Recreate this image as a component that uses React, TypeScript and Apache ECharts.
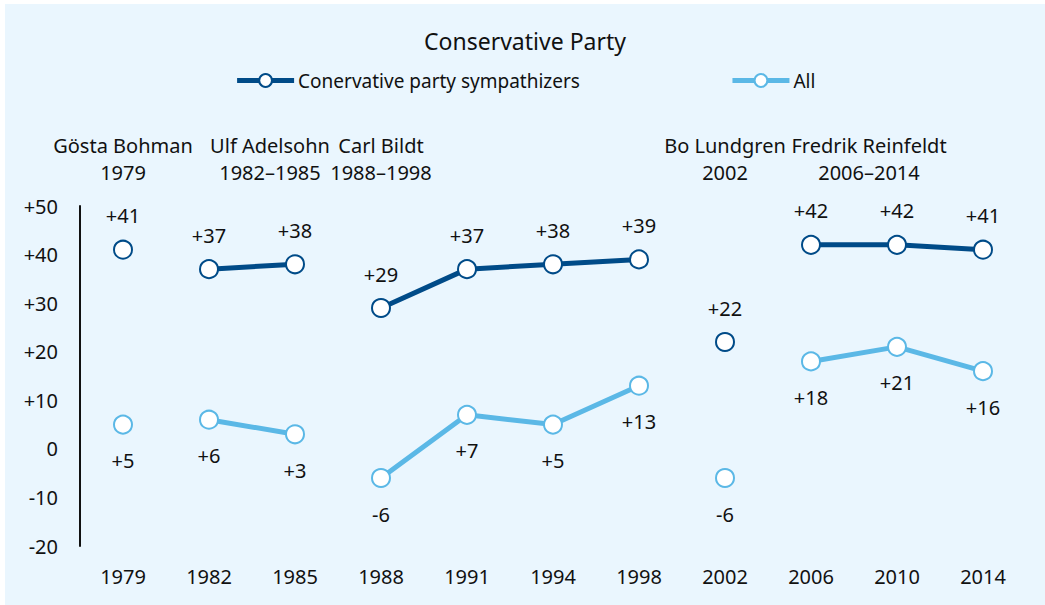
import React, { useEffect, useRef } from "react";
import * as echarts from "echarts";

const years = ["1979", "1982", "1985", "1988", "1991", "1994", "1998", "2002", "2006", "2010", "2014"];
const sympathizers = [41, 37, 38, 29, 37, 38, 39, 22, 42, 42, 41];
const allVoters = [5, 6, 3, -6, 7, 5, 13, -6, 18, 21, 16];
// leadership periods: [firstIndex, lastIndex]
const segments: [number, number][] = [[0, 0], [1, 2], [3, 6], [7, 7], [8, 10]];
const leaders = [
  { name: "Gösta Bohman", period: "1979", x: 118 },
  { name: "Ulf Adelsohn", period: "1982–1985", x: 265 },
  { name: "Carl Bildt", period: "1988–1998", x: 376 },
  { name: "Bo Lundgren", period: "2002", x: 720 },
  { name: "Fredrik Reinfeldt", period: "2006–2014", x: 864 },
];
const SYMP_NAME = "Conervative party sympathizers";
const ALL_NAME = "All";
const TITLE = "Conservative Party";

const DARK = "#004b88";
const LIGHT = "#5bb8e6";
const FONT = "'Noto Sans', sans-serif";

const fmt = (v: number) => (v > 0 ? "+" + v : String(v));

export default function App() {
  const ref = useRef<HTMLDivElement>(null);
  useEffect(() => {
    document.body.style.margin = "0";
    const chart = echarts.init(ref.current!, undefined, { renderer: "svg" });
    const makeSeries = (name: string, values: number[], color: string, pos: "top" | "bottom") =>
      segments.map(([s, e]) => ({
        name,
        type: "line",
        data: values.map((v, i) => (i >= s && i <= e ? v : null)),
        connectNulls: false,
        symbol: "circle",
        symbolSize: 18,
        showAllSymbol: true,
        lineStyle: { color, width: 5 },
        itemStyle: { color: "#ffffff", borderColor: color, borderWidth: 2 },
        label: {
          show: true,
          position: pos,
          distance: pos === "top" ? 14 : 16,
          color: "#111",
          fontSize: 20,
          fontFamily: FONT,
          formatter: (p: any) => fmt(p.value),
        },
        emphasis: { disabled: true },
        z: pos === "top" ? 3 : 2,
      }));

    const graphic: any[] = [];
    leaders.forEach((l) => {
      graphic.push({
        type: "text",
        x: l.x,
        y: 155,
        style: {
          text: l.name + "\n" + l.period,
          align: "center",
          verticalAlign: "middle",
          fill: "#111",
          font: `20px ${FONT}`,
          lineHeight: 27,
        },
      });
    });

    chart.setOption({
      animation: false,
      backgroundColor: "#eaf6fe",
      title: {
        text: TITLE,
        left: "center",
        top: 20,
        textStyle: { color: "#111", fontSize: 23, fontWeight: "normal", fontFamily: FONT },
      },
      legend: {
        data: [SYMP_NAME, ALL_NAME],
        top: 62,
        left: "center",
        itemWidth: 57,
        itemHeight: 16,
        itemGap: 150,
        lineStyle: { width: 5 },
        itemStyle: { borderWidth: 2 },
        textStyle: { color: "#111", fontSize: 19, fontFamily: FONT, padding: [0, 0, 0, -1] },
      },
      color: [DARK, LIGHT],
      grid: { left: 75, right: 19, top: 202, bottom: 59, containLabel: false },
      xAxis: {
        type: "category",
        data: years,
        boundaryGap: true,
        axisLine: { show: false },
        axisTick: { show: false },
        axisLabel: { color: "#111", fontSize: 20, fontFamily: FONT, margin: 20 },
      },
      yAxis: {
        type: "value",
        min: -20,
        max: 50,
        interval: 10,
        axisLine: { show: true, lineStyle: { color: "#111", width: 2 } },
        axisTick: { show: false },
        splitLine: { show: false },
        axisLabel: { color: "#111", fontSize: 20, fontFamily: FONT, margin: 22, formatter: fmt },
      },
      graphic,
      series: [
        ...makeSeries(SYMP_NAME, sympathizers, DARK, "top"),
        ...makeSeries(ALL_NAME, allVoters, LIGHT, "bottom"),
      ],
    });
    return () => chart.dispose();
  }, []);
  return (
    <div style={{ position: "relative", width: 1045, height: 605, background: "#ffffff" }}>
      <div ref={ref} style={{ position: "absolute", left: 5, top: 4, width: 1040, height: 601 }} />
    </div>
  );
}
